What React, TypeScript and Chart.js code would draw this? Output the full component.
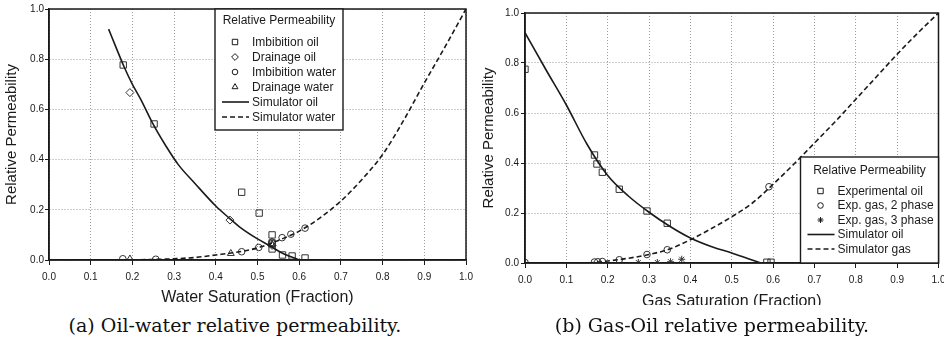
import React, { useEffect, useRef } from "react";
import { Chart, registerables } from "chart.js";

Chart.register(...registerables);

const SANS = '"Liberation Sans", Arial, Helvetica, sans-serif';
const INK = "#1a1a1a";
const GRID = "#9c9c9c";

// ---------- (a) Oil-water relative permeability ----------
const owSimOilSw = [0.143, 0.16, 0.18, 0.2, 0.22, 0.25, 0.28, 0.31, 0.35, 0.4, 0.43, 0.46, 0.5, 0.53, 0.56, 0.6];
const owSimOilKr = [0.92, 0.85, 0.77, 0.7, 0.64, 0.54, 0.455, 0.38, 0.305, 0.215, 0.17, 0.128, 0.084, 0.056, 0.027, 0.0];
const owSimWaterSw = [0.143, 0.2, 0.25, 0.3, 0.35, 0.4, 0.45, 0.5, 0.55, 0.6, 0.65, 0.7, 0.75, 0.8, 0.85, 0.9, 0.95, 1.0];
const owSimWaterKr = [0.0, 0.001, 0.002, 0.005, 0.01, 0.02, 0.031, 0.048, 0.078, 0.115, 0.168, 0.235, 0.32, 0.42, 0.555, 0.705, 0.85, 1.0];
const owImbOilSw = [0.178, 0.252, 0.462, 0.504, 0.535, 0.535, 0.535, 0.56, 0.583, 0.614];
const owImbOilKr = [0.777, 0.542, 0.27, 0.187, 0.1, 0.068, 0.044, 0.02, 0.016, 0.008];
const owDrnOilSw = [0.194, 0.434, 0.535, 0.535];
const owDrnOilKr = [0.667, 0.159, 0.072, 0.058];
const owImbWaterSw = [0.177, 0.256, 0.462, 0.503, 0.535, 0.559, 0.58, 0.614];
const owImbWaterKr = [0.005, 0.003, 0.033, 0.05, 0.065, 0.089, 0.103, 0.127];
const owDrnWaterSw = [0.194, 0.436, 0.535];
const owDrnWaterKr = [0.004, 0.026, 0.06];

// ---------- (b) Gas-oil relative permeability ----------
const goSimOilSg = [0, 0.05, 0.1, 0.15, 0.2, 0.25, 0.3, 0.35, 0.4, 0.45, 0.5, 0.54, 0.57];
const goSimOilKr = [0.921, 0.775, 0.632, 0.475, 0.35, 0.268, 0.203, 0.147, 0.1, 0.066, 0.04, 0.017, 0.0];
const goSimGasSg = [0, 0.15, 0.18, 0.2, 0.25, 0.3, 0.35, 0.4, 0.45, 0.5, 0.55, 0.6, 0.65, 0.7, 0.75, 0.8, 0.85, 0.9, 0.95, 1.0];
const goSimGasKr = [0, 0, 0.004, 0.008, 0.019, 0.034, 0.056, 0.093, 0.137, 0.185, 0.24, 0.315, 0.395, 0.48, 0.565, 0.655, 0.745, 0.835, 0.92, 1.0];
const goExpOilSg = [0.0, 0.168, 0.174, 0.187, 0.228, 0.295, 0.344, 0.585, 0.595];
const goExpOilKr = [0.775, 0.432, 0.396, 0.363, 0.295, 0.208, 0.159, 0.003, 0.003];
const goExpGas2Sg = [0.0, 0.168, 0.176, 0.187, 0.228, 0.295, 0.344, 0.59];
const goExpGas2Kr = [0.002, 0.004, 0.005, 0.006, 0.013, 0.034, 0.053, 0.305];
const goExpGas3Sg = [0.274, 0.32, 0.352, 0.379];
const goExpGas3Kr = [0.002, 0.002, 0.005, 0.015];

const pts = (xs: number[], ys: number[]) => xs.map((x, i) => ({ x, y: ys[i] }));

type Series = {
  label: string;
  kind: "line" | "point";
  xs: number[];
  ys: number[];
  style?: string;
  radius?: number;
  dash?: number[];
};

function drawMarker(ctx: CanvasRenderingContext2D, style: string, x: number, y: number, r: number) {
  ctx.beginPath();
  if (style === "rect") {
    const s = r * Math.SQRT1_2;
    ctx.rect(x - s, y - s, 2 * s, 2 * s);
  } else if (style === "rectRot") {
    ctx.moveTo(x - r, y);
    ctx.lineTo(x, y - r);
    ctx.lineTo(x + r, y);
    ctx.lineTo(x, y + r);
    ctx.closePath();
  } else if (style === "triangle") {
    let a = 0;
    ctx.moveTo(x + Math.sin(a) * r, y - Math.cos(a) * r);
    a += (2 * Math.PI) / 3;
    ctx.lineTo(x + Math.sin(a) * r, y - Math.cos(a) * r);
    a += (2 * Math.PI) / 3;
    ctx.lineTo(x + Math.sin(a) * r, y - Math.cos(a) * r);
    ctx.closePath();
  } else if (style === "star") {
    for (let k = 0; k < 4; k++) {
      const a = (k * Math.PI) / 4;
      ctx.moveTo(x - Math.cos(a) * r, y - Math.sin(a) * r);
      ctx.lineTo(x + Math.cos(a) * r, y + Math.sin(a) * r);
    }
  } else {
    ctx.arc(x, y, r, 0, Math.PI * 2);
  }
  ctx.stroke();
}

type LegendCfg = {
  anchor: "tl" | "br";
  dx: number;
  w: number;
  h: number;
  titleY: number;
  rowStart: number;
  rowStep: number;
};

const frameLegendPlugin = {
  id: "frameLegend",
  afterDatasetsDraw(chart: any, _args: any, opts: any) {
    const { ctx, chartArea: a } = chart;
    ctx.save();
    ctx.strokeStyle = INK;
    ctx.lineWidth = 1.5;
    ctx.setLineDash([]);
    ctx.strokeRect(a.left, a.top, a.right - a.left, a.bottom - a.top);

    const lg: LegendCfg = opts.box;
    const series: Series[] = opts.series;
    const bx = lg.anchor === "tl" ? a.left + lg.dx : a.right - lg.w;
    const by = lg.anchor === "tl" ? a.top : a.bottom - lg.h;
    ctx.fillStyle = "#ffffff";
    ctx.fillRect(bx, by, lg.w, lg.h);
    ctx.lineWidth = 1.4;
    ctx.strokeRect(bx, by, lg.w, lg.h);

    ctx.fillStyle = INK;
    ctx.font = `12px ${SANS}`;
    ctx.textBaseline = "middle";
    ctx.textAlign = "center";
    ctx.fillText("Relative Permeability", bx + lg.w / 2, by + lg.titleY);
    ctx.textAlign = "left";
    series.forEach((s, i) => {
      const y = by + lg.rowStart + i * lg.rowStep;
      ctx.strokeStyle = INK;
      if (s.kind === "line") {
        ctx.lineWidth = 1.6;
        ctx.setLineDash(s.dash || []);
        ctx.beginPath();
        ctx.moveTo(bx + 7, y);
        ctx.lineTo(bx + 34, y);
        ctx.stroke();
        ctx.setLineDash([]);
      } else {
        ctx.lineWidth = 1;
        drawMarker(ctx, s.style || "circle", bx + 20, y, (s.radius || 3.5) * 0.85);
      }
      ctx.fillText(s.label, bx + 37, y + 0.5);
    });
    ctx.restore();
  },
};

type PanelProps = {
  left: number;
  width: number;
  height: number;
  clipHeight: number;
  pad: { top: number; right: number; left: number; bottom: number };
  yAxisWidth: number;
  xAxisHeight: number;
  xTitle: string;
  xTitlePad: number;
  yTitlePad: number;
  yTickPad: number;
  series: Series[];
  legend: LegendCfg;
};

function Panel(p: PanelProps) {
  const ref = useRef<HTMLCanvasElement | null>(null);
  useEffect(() => {
    if (!ref.current) return;
    const datasets = p.series.map((s) =>
      s.kind === "line"
        ? {
            label: s.label,
            data: pts(s.xs, s.ys),
            showLine: true,
            borderColor: INK,
            backgroundColor: INK,
            borderWidth: 1.6,
            borderDash: s.dash || [],
            pointRadius: 0,
            pointHoverRadius: 0,
            cubicInterpolationMode: "monotone" as const,
            order: 1,
          }
        : {
            label: s.label,
            data: pts(s.xs, s.ys),
            showLine: false,
            pointStyle: s.style,
            pointRadius: s.radius || 3.5,
            pointBorderColor: "#333",
            pointBackgroundColor: "rgba(255,255,255,0)",
            pointBorderWidth: 1,
            borderColor: "#333",
            backgroundColor: "rgba(255,255,255,0)",
            order: 2,
          }
    );
    const chart = new Chart(ref.current, {
      type: "scatter",
      data: { datasets: datasets as any },
      plugins: [frameLegendPlugin],
      options: {
        responsive: false,
        animation: false,
        devicePixelRatio: 1,
        layout: { padding: p.pad },
        plugins: {
          legend: { display: false },
          tooltip: { enabled: false },
          frameLegend: { box: p.legend, series: p.series },
        } as any,
        scales: {
          x: {
            type: "linear",
            position: "bottom",
            min: 0,
            max: 1,
            ticks: {
              stepSize: 0.1,
              autoSkip: false,
              maxRotation: 0,
              padding: 6,
              color: INK,
              font: { family: SANS, size: 10 },
              callback: (v: any) => Number(v).toFixed(1),
            },
            grid: { color: GRID, lineWidth: 1, tickLength: 5, tickColor: INK, tickWidth: 1 },
            border: { display: true, color: INK, width: 1.5, dash: [1, 2] },
            title: {
              display: true,
              text: p.xTitle,
              color: INK,
              font: { family: SANS, size: 16 },
              padding: { top: 0, bottom: p.xTitlePad },
            },
            afterFit: (s: any) => {
              s.height = p.xAxisHeight;
              s.paddingLeft = 0;
              s.paddingRight = 0;
            },
          },
          y: {
            type: "linear",
            position: "left",
            min: 0,
            max: 1,
            ticks: {
              stepSize: 0.2,
              padding: p.yTickPad,
              color: INK,
              font: { family: SANS, size: 10 },
              callback: (v: any) => Number(v).toFixed(1),
            },
            grid: { color: GRID, lineWidth: 1, tickLength: 4, tickColor: INK, tickWidth: 1 },
            border: { display: true, color: INK, width: 1.5, dash: [1, 2] },
            title: {
              display: true,
              text: "Relative Permeability",
              color: INK,
              font: { family: SANS, size: 15 },
              padding: { top: p.yTitlePad, bottom: 0 },
            },
            afterFit: (s: any) => {
              s.width = p.yAxisWidth;
              s.paddingTop = 0;
              s.paddingBottom = 0;
            },
          },
        },
      } as any,
    });
    return () => chart.destroy();
  }, []);
  return (
    <div
      style={{
        position: "absolute",
        left: p.left,
        top: 0,
        width: p.width,
        height: p.clipHeight,
        overflow: "hidden",
      }}
    >
      <canvas
        ref={ref}
        width={p.width}
        height={p.height}
        style={{ display: "block", width: p.width, height: p.height }}
      />
    </div>
  );
}

const owSeries: Series[] = [
  { label: "Imbibition oil", kind: "point", xs: owImbOilSw, ys: owImbOilKr, style: "rect", radius: 4.5 },
  { label: "Drainage oil", kind: "point", xs: owDrnOilSw, ys: owDrnOilKr, style: "rectRot", radius: 4 },
  { label: "Imbibition water", kind: "point", xs: owImbWaterSw, ys: owImbWaterKr, style: "circle", radius: 3.3 },
  { label: "Drainage water", kind: "point", xs: owDrnWaterSw, ys: owDrnWaterKr, style: "triangle", radius: 4 },
  { label: "Simulator oil", kind: "line", xs: owSimOilSw, ys: owSimOilKr },
  { label: "Simulator water", kind: "line", xs: owSimWaterSw, ys: owSimWaterKr, dash: [5, 3] },
];

const goSeries: Series[] = [
  { label: "Experimental oil", kind: "point", xs: goExpOilSg, ys: goExpOilKr, style: "rect", radius: 4.5 },
  { label: "Exp. gas, 2 phase", kind: "point", xs: goExpGas2Sg, ys: goExpGas2Kr, style: "circle", radius: 3.3 },
  { label: "Exp. gas, 3 phase", kind: "point", xs: goExpGas3Sg, ys: goExpGas3Kr, style: "star", radius: 3.5 },
  { label: "Simulator oil", kind: "line", xs: goSimOilSg, ys: goSimOilKr },
  { label: "Simulator gas", kind: "line", xs: goSimGasSg, ys: goSimGasKr, dash: [5, 3] },
];

const captionStyle: React.CSSProperties = {
  position: "absolute",
  top: 312,
  width: 460,
  textAlign: "center",
  fontFamily: '"DejaVu Serif", "Liberation Serif", serif',
  fontSize: 19,
  lineHeight: "26px",
  color: "#111",
  whiteSpace: "nowrap",
};

export default function App() {
  return (
    <div
      style={{
        position: "absolute",
        left: 0,
        top: 0,
        width: 944,
        height: 350,
        overflow: "hidden",
        background: "#ffffff",
      }}
    >
      <Panel
        left={0}
        width={480}
        height={310}
        clipHeight={310}
        pad={{ top: 9, right: 14, left: 0, bottom: 0 }}
        yAxisWidth={49}
        xAxisHeight={50}
        xTitle="Water Saturation (Fraction)"
        xTitlePad={3}
        yTitlePad={3}
        yTickPad={1}
        series={owSeries}
        legend={{ anchor: "tl", dx: 166, w: 128, h: 121, titleY: 12, rowStart: 33, rowStep: 15 }}
      />
      <Panel
        left={470}
        width={474}
        height={312}
        clipHeight={305}
        pad={{ top: 13, right: 3, left: 0, bottom: 0 }}
        yAxisWidth={55}
        xAxisHeight={49}
        xTitle="Gas Saturation (Fraction)"
        xTitlePad={1}
        yTitlePad={10}
        yTickPad={2}
        series={goSeries}
        legend={{ anchor: "br", dx: 0, w: 138, h: 106, titleY: 14, rowStart: 34, rowStep: 14.5 }}
      />
      <div style={{ ...captionStyle, left: 235 - 230 }}>(a) Oil-water relative permeability.</div>
      <div style={{ ...captionStyle, left: 712 - 230 }}>(b) Gas-Oil relative permeability.</div>
    </div>
  );
}
